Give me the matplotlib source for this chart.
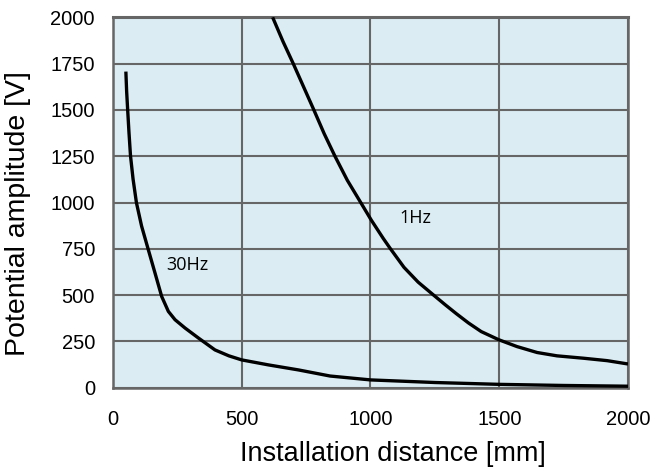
import matplotlib
matplotlib.use('Agg')
import matplotlib.pyplot as plt

# values
hz1_x = [620, 660, 700, 740, 780, 820, 862, 910, 962, 1003, 1050, 1075, 1130, 1185,
         1245, 1290, 1333, 1380, 1430, 1498, 1569, 1647, 1724, 1828, 1919, 2000]
hz1_y = [2000, 1870, 1750, 1625, 1500, 1372, 1250, 1120, 1000, 905, 805, 755, 650, 570,
         500, 448, 400, 350, 303, 259, 222, 190, 172, 159, 146, 128]

hz30_x = [50, 53, 57, 62, 68, 78, 91, 111, 137, 163, 189, 215, 241, 280, 332, 396, 450,
          500, 604, 720, 843, 1000, 1250, 1500, 1750, 2000]
hz30_y = [1707, 1600, 1500, 1380, 1252, 1126, 999, 873, 746, 620, 493, 412, 367, 322, 268,
          204, 172, 150, 123, 96, 63, 42, 28, 18, 12, 8]

x_ticks = [0, 500, 1000, 1500, 2000]
y_ticks = [0, 250, 500, 750, 1000, 1250, 1500, 1750, 2000]

plt.rcParams['font.family'] = ['Liberation Sans', 'DejaVu Sans']

fig = plt.figure(figsize=(6.52, 4.68), dpi=100)
ax = fig.add_axes([0.1733, 0.1716, 0.7899, 0.7914])
ax.set_facecolor('#dbedf3')

ax.plot(hz1_x, hz1_y, color='black', lw=2.4, solid_capstyle='butt', zorder=3)
ax.plot(hz30_x, hz30_y, color='black', lw=2.4, solid_capstyle='butt', zorder=3)

ax.text(1112, 915, '1Hz', family='Open Sans', fontsize=13, va='center', ha='left')
ax.text(205, 662, '30Hz', family='Open Sans', fontsize=13, va='center', ha='left')

ax.set_xlim(0, 2000)
ax.set_ylim(0, 2000)
ax.set_xticks(x_ticks)
ax.set_yticks(y_ticks)
ax.tick_params(length=0, labelsize=14.5)
ax.tick_params(axis='x', pad=16)
ax.tick_params(axis='y', pad=13)
ax.grid(True, color='#666666', lw=1.5)
ax.set_axisbelow(True)
for s in ax.spines.values():
    s.set_color('#666666')
    s.set_linewidth(1.8)
ax.spines['top'].set_linewidth(2.2)

ax.set_xlabel('Installation distance [mm]', fontsize=19.5)
ax.set_ylabel('Potential amplitude [V]', fontsize=20.5)
# labels sit a bit off-centre in the original
ax.xaxis.set_label_coords(0.543, -0.145)
ax.yaxis.set_label_coords(-0.16, 0.47)

fig.savefig('out.png', dpi=100)
